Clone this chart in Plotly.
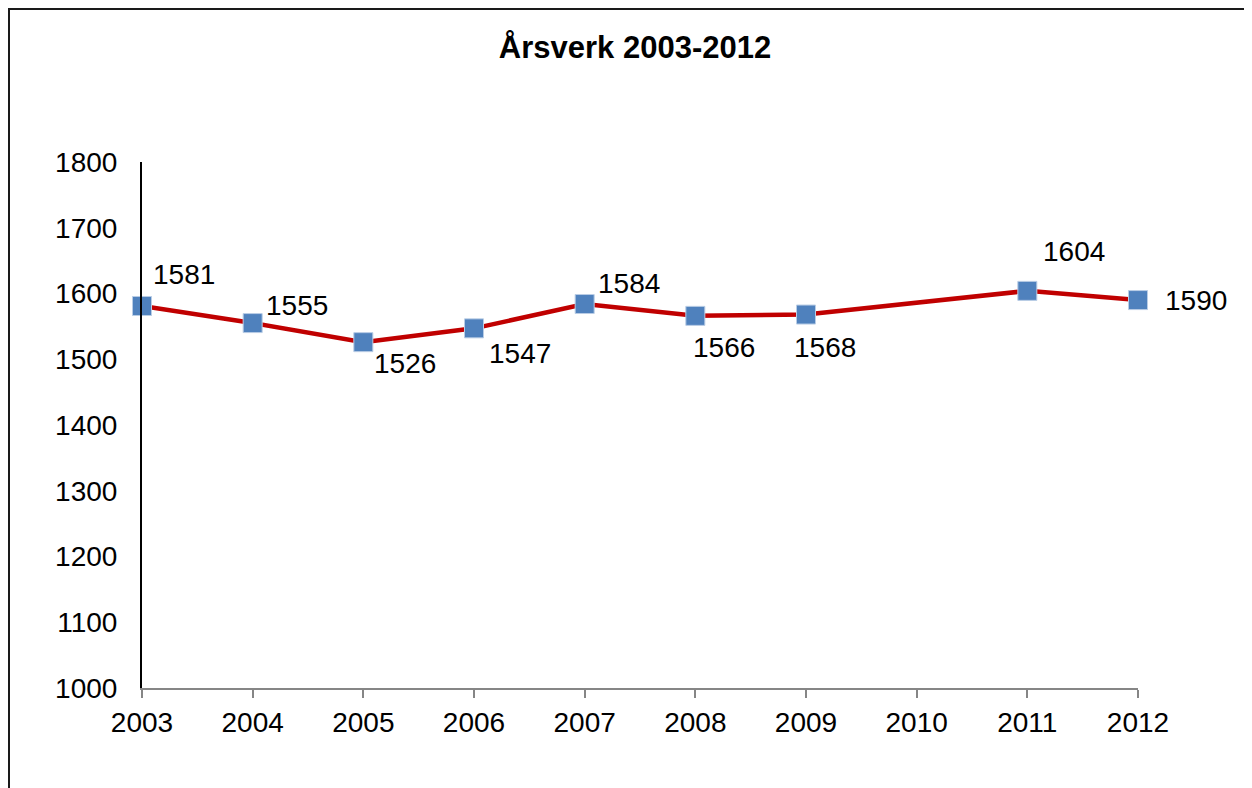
import plotly.graph_objects as go

years = [2003, 2004, 2005, 2006, 2007, 2008, 2009, 2010, 2011, 2012]
values = [1581, 1555, 1526, 1547, 1584, 1566, 1568, None, 1604, 1590]
y_ticks = [1000, 1100, 1200, 1300, 1400, 1500, 1600, 1700, 1800]
title_text = "Årsverk 2003-2012"

# label offsets in pixels (style only)
label_dx = [42, 44, 42, 46, 44, 29, 19, 0, 47, 58]
label_dy = [31, 18, -21, -25, 21, -32, -33, 0, 39, 0]

FONT = "Liberation Sans, Arial, sans-serif"
OFF = 8  # page body margin

W, H = 1252, 788
L, R, T, B = 142 - OFF, W - (1138 - OFF), 162 - OFF, H - (688 - OFF)
PW, PH = W - L - R, H - T - B

fig = go.Figure()
fig.add_trace(go.Scatter(
    x=years, y=values, mode="lines+markers", connectgaps=True,
    line=dict(color="#C00000", width=4.5),
    marker=dict(symbol="square", size=19, color="#4F81BD",
                line=dict(color="#B9CDE5", width=1)),
    hoverinfo="x+y", showlegend=False, cliponaxis=False,
))

annotations = []
for x, v, dx, dy in zip(years, values, label_dx, label_dy):
    if v is None:
        continue
    annotations.append(dict(
        x=x, y=v, xref="x", yref="y", text=str(v), showarrow=False,
        xshift=dx, yshift=dy, font=dict(family=FONT, size=28, color="#000000"),
    ))

fig.update_layout(
    width=W, height=H,
    margin=dict(l=L, r=R, t=T, b=B),
    paper_bgcolor="white", plot_bgcolor="white",
    title=dict(text=f"<b>{title_text}</b>", x=(635 - OFF) / W, xref="container",
               y=1 - (47 - OFF) / H, yref="container", xanchor="center", yanchor="middle",
               font=dict(family=FONT, size=31, color="#000000")),
    font=dict(family=FONT, size=28, color="#000000"),
    annotations=annotations,
    xaxis=dict(
        range=[2003, 2012], tickvals=years, ticktext=[str(y) for y in years],
        showgrid=False, zeroline=False, showline=True, linecolor="#868686", linewidth=2,
        ticks="outside", ticklen=8, tickwidth=2, tickcolor="#868686",
        tickfont=dict(family=FONT, size=28, color="#000000"),
        fixedrange=True,
    ),
    yaxis=dict(
        range=[1000, 1800], tickvals=y_ticks,
        showgrid=False, zeroline=False, showline=True, linecolor="#000000", linewidth=2,
        ticks="", ticklabelstandoff=17,
        tickfont=dict(family=FONT, size=28, color="#000000"),
        fixedrange=True,
    ),
    shapes=[dict(type="rect", xref="paper", yref="paper",
                 x0=(9 - OFF - L) / PW, x1=1.3,
                 y0=-0.3, y1=(PH + T - (8 - OFF) - 1) / PH,
                 line=dict(color="#1a1a1a", width=2), layer="below")],
)

fig.write_html("out.html")
